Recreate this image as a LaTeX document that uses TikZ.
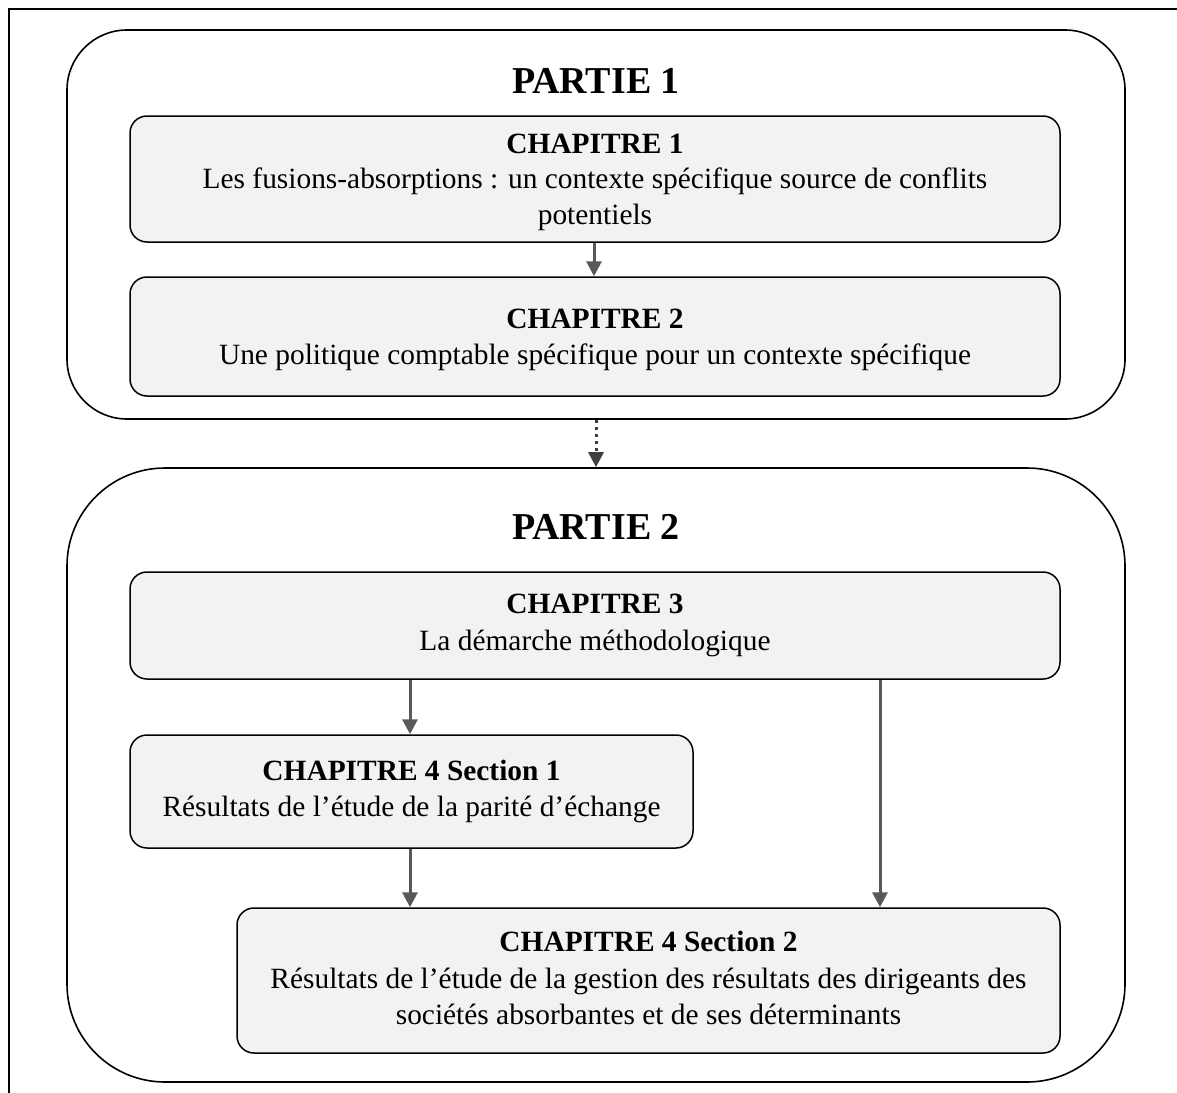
\documentclass[tikz,border=0pt]{standalone}
\usepackage{fontspec}
\setmainfont{Liberation Serif}
\usetikzlibrary{arrows.meta}
\definecolor{boxfill}{HTML}{F2F2F2}
\definecolor{arrowgray}{HTML}{595959}
\definecolor{dotgray}{HTML}{404040}
\begin{document}
\begin{tikzpicture}[x=1pt,y=-1pt,
  partbox/.style={draw=black, line width=1.6pt, minimum width=1058pt},
  chapbox/.style={draw=black, line width=1.5pt, fill=boxfill, rounded corners=17pt,
    align=center, inner sep=0pt, font=\fontsize{29.4}{36.2}\selectfont},
  parttitle/.style={font=\fontsize{38}{42}\selectfont\bfseries},
  flow/.style={draw=arrowgray, line width=3pt, -{Triangle[width=15pt,length=15pt]}},
  link/.style={draw=dotgray, line width=3pt, dash pattern=on 3pt off 4pt,
    -{Triangle[width=15pt,length=15pt]}}]
\useasboundingbox (0,0) rectangle (1177,1092);
% page frame (left and top edges)
\draw[line width=2pt] (9,1100) -- (9,9) -- (1185,9);

% part containers
\node[partbox, rounded corners=60pt, minimum height=389pt] (p1) at (596,224.5) {};
\node[partbox, rounded corners=98pt, minimum height=614pt] (p2) at (596,775) {};
\node[parttitle] (t1) at (596,81) {PARTIE 1};
\node[parttitle] (t2) at (596,527) {PARTIE 2};

% chapters
\node[chapbox, minimum width=930pt, minimum height=126pt] (c1) at (595,179) {};
\node[align=center, font=\fontsize{29.4}{35.6}\selectfont] (c1t) at (595,182)
  {\textbf{CHAPITRE 1}\\Les fusions-absorptions : un contexte spécifique source de conflits\\potentiels};
\node[chapbox, minimum width=930pt, minimum height=119pt] (c2) at (595,336.5) {};
\node[align=center, font=\fontsize{29.4}{36.2}\selectfont] (c2t) at (595,340)
  {\textbf{CHAPITRE 2}\\Une politique comptable spécifique pour un contexte spécifique};
\node[chapbox, minimum width=930pt, minimum height=107pt] (c3) at (595,625.5)
  {\textbf{CHAPITRE 3}\\La démarche méthodologique};
\node[chapbox, minimum width=563pt, minimum height=113pt] (c41) at (411.5,791.5)
  {\textbf{CHAPITRE 4 Section 1}\\Résultats de l’étude de la parité d’échange};
\node[chapbox, minimum width=823pt, minimum height=145pt] (c42) at (648.5,980.5) {};
\node[align=center, font=\fontsize{29.4}{36.5}\selectfont] (c42t) at (648.5,978)
  {\textbf{CHAPITRE 4 Section 2}\\Résultats de l’étude de la gestion des résultats des dirigeants des\\sociétés absorbantes et de ses déterminants};

% connectors
\draw[flow] (c1.south -| 594,0) -- (c2.north -| 594,0);
\draw[link] (p1.south -| 596,0) -- (p2.north -| 596,0);
\draw[flow] (c3.south -| 410,0) -- (c41.north -| 410,0);
\draw[flow] (c3.south -| 880,0) -- (c42.north -| 880,0);
\draw[flow] (c41.south -| 410,0) -- (c42.north -| 410,0);
\end{tikzpicture}
\end{document}
